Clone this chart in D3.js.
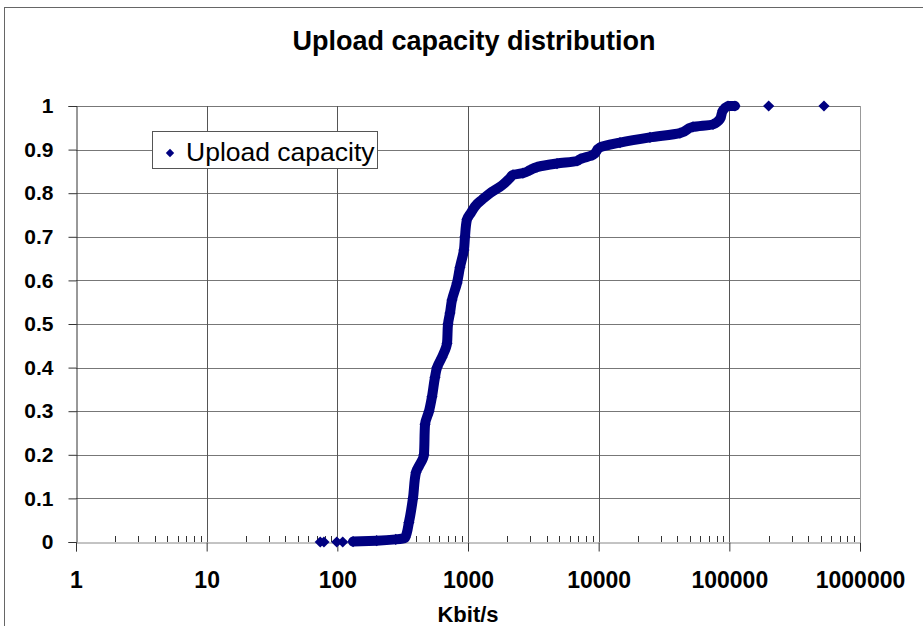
<!DOCTYPE html>
<html>
<head>
<meta charset="utf-8">
<script src="https://cdn.jsdelivr.net/npm/d3@7"></script>
<style>
  body { margin: 0; background: #fff; }
  text { font-family: Arial, "Liberation Sans", sans-serif; }
</style>
</head>
<body>
<div id="chart"></div>
<script>
// upload capacity (Kbit/s) and cumulative share
var capacity = [132, 200, 280, 330, 353, 379, 400, 414, 460, 469, 503, 530, 559, 579,
  632, 691, 703, 728, 754, 824, 868, 931, 948, 982, 1054, 1171, 1280, 1473, 1820,
  2094, 2208, 2634, 2980, 3372, 4799, 6828, 7198, 9054, 10239, 14560, 24700, 41900,
  52700, 75000, 84800, 89400, 97700, 110400];
var share = [0.001, 0.003, 0.006, 0.01, 0.045, 0.10, 0.16, 0.17, 0.20, 0.27, 0.30, 0.333, 0.378, 0.40,
  0.424, 0.456, 0.50, 0.525, 0.555, 0.594, 0.63, 0.67, 0.70, 0.74, 0.755, 0.775, 0.785, 0.80, 0.818,
  0.835, 0.842, 0.846, 0.853, 0.86, 0.868, 0.874, 0.878, 0.888, 0.905, 0.916, 0.928, 0.938,
  0.952, 0.958, 0.97, 0.99, 1.0, 1.0];

// lonely points off the main curve
var outlierCapacity = [74, 79, 99, 110, 200000, 530000];
var outlierShare = [0, 0, 0, 0, 1, 1];

var xTicks = [1, 10, 100, 1000, 10000, 100000, 1000000];
var yTicks = [0, 0.1, 0.2, 0.3, 0.4, 0.5, 0.6, 0.7, 0.8, 0.9, 1];

function drawChart() {
  var width = 923,
      height = 626;

  var pl = 76, pr = 860, pt = 106, pb = 542;
  var navy = "#000080";

  var svg = d3.select("#chart").append("svg")
      .attr("width", width)
      .attr("height", height);

  // chart frame
  svg.append("rect")
      .attr("x", 4.5).attr("y", 7.5)
      .attr("width", 1000).attr("height", 1000)
      .attr("fill", "none")
      .attr("stroke", "#666");

  svg.append("text")
      .attr("x", 474).attr("y", 50)
      .attr("text-anchor", "middle")
      .style("font-size", "27px")
      .style("font-weight", "bold")
      .text("Upload capacity distribution");

  var x = d3.scaleLog().domain([1, 1000000]).range([pl, pr]);
  var y = d3.scaleLinear().domain([0, 1]).range([pb, pt]);

  // grid
  svg.append("g").selectAll("line")
      .data(yTicks.slice(1))
      .join("line")
      .attr("x1", pl).attr("x2", pr)
      .attr("y1", d => Math.round(y(d)) + 0.5).attr("y2", d => Math.round(y(d)) + 0.5)
      .attr("stroke", "#777");

  svg.append("g").selectAll("line")
      .data(xTicks.slice(1, -1))
      .join("line")
      .attr("x1", d => Math.round(x(d)) + 0.5).attr("x2", d => Math.round(x(d)) + 0.5)
      .attr("y1", pt).attr("y2", pb)
      .attr("stroke", "#555");

  svg.append("line")
      .attr("x1", pr + 0.5).attr("x2", pr + 0.5)
      .attr("y1", pt).attr("y2", pb)
      .attr("stroke", "#999");

  // y axis
  var yAxis = d3.axisLeft(y)
      .tickValues(yTicks)
      .tickSize(8)
      .tickPadding(15)
      .tickFormat(d => String(+d.toFixed(1)));

  var gy = svg.append("g")
      .attr("transform", "translate(" + (pl + 0.5) + ",0)")
      .call(yAxis);
  gy.select(".domain").attr("stroke", "#333");
  gy.selectAll(".tick line").attr("stroke", "#333");
  gy.selectAll("text")
      .style("font-size", "21px")
      .style("font-weight", "bold")
      .attr("font-family", null)
      .attr("fill", "#000");

  // x axis: major ticks down, minor ticks up
  var xAxis = d3.axisBottom(x)
      .tickValues(xTicks)
      .tickSize(9)
      .tickPadding(20)
      .tickFormat(d3.format("d"));

  var gx = svg.append("g")
      .attr("transform", "translate(0," + (pb + 0.5) + ")")
      .call(xAxis);
  gx.select(".domain").attr("stroke", "#888");
  gx.selectAll(".tick line").attr("stroke", "#333");
  gx.selectAll("text")
      .style("font-size", "23px")
      .style("font-weight", "bold")
      .attr("font-family", null)
      .attr("fill", "#000");

  var minor = [];
  xTicks.slice(0, -1).forEach(function(d) {
    for (var k = 2; k < 10; k++) minor.push(d * k);
  });
  svg.append("g").selectAll("line")
      .data(minor)
      .join("line")
      .attr("x1", d => Math.round(x(d)) + 0.5).attr("x2", d => Math.round(x(d)) + 0.5)
      .attr("y1", pb - 6).attr("y2", pb)
      .attr("stroke", "#333");

  svg.append("text")
      .attr("x", 468).attr("y", 622)
      .attr("text-anchor", "middle")
      .style("font-size", "22px")
      .style("font-weight", "bold")
      .text("Kbit/s");

  // the series: dense markers drawn as a thick band
  var pts = capacity.map((c, i) => [c, share[i]]);
  var line = d3.line().x(d => x(d[0])).y(d => y(d[1])).curve(d3.curveMonotoneY);

  svg.append("path")
      .datum(pts)
      .attr("d", line)
      .attr("fill", "none")
      .attr("stroke", navy)
      .attr("stroke-width", 10)
      .attr("stroke-linejoin", "round")
      .attr("stroke-linecap", "round");

  var diamond = d3.symbol().type(d3.symbolDiamond2).size(80);

  svg.append("g").selectAll("path")
      .data(pts)
      .join("path")
      .attr("transform", d => "translate(" + x(d[0]) + "," + y(d[1]) + ")")
      .attr("d", diamond)
      .attr("fill", navy);

  svg.append("g").selectAll("path")
      .data(outlierCapacity.map((c, i) => [c, outlierShare[i]]))
      .join("path")
      .attr("transform", d => "translate(" + x(d[0]) + "," + y(d[1]) + ")")
      .attr("d", diamond)
      .attr("fill", navy);

  // legend
  var lg = svg.append("g");
  lg.append("rect")
      .attr("x", 152.5).attr("y", 131.5)
      .attr("width", 225).attr("height", 37)
      .attr("fill", "#fff")
      .attr("stroke", "#555");
  lg.append("path")
      .attr("transform", "translate(170,153)")
      .attr("d", d3.symbol().type(d3.symbolDiamond2).size(45))
      .attr("fill", navy);
  lg.append("text")
      .attr("x", 186).attr("y", 161)
      .style("font-size", "26.5px")
      .text("Upload capacity");
}
drawChart()
</script>
</body>
</html>
